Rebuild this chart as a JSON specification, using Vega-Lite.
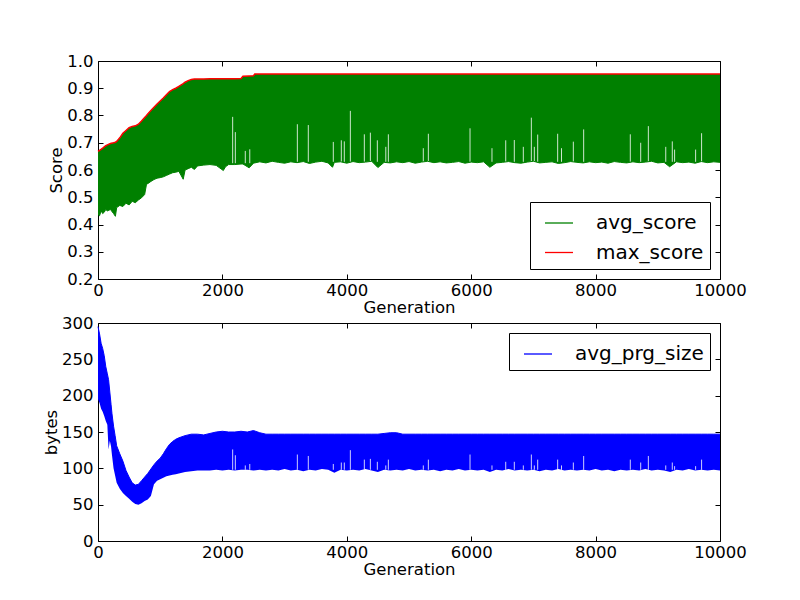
{
  "$schema": "https://vega.github.io/schema/vega-lite/v6.json",
  "padding": {"left": 43, "top": 52, "right": 5, "bottom": 5},
  "background": "white",
  "config": {
    "view": {"stroke": "black", "strokeWidth": 1},
    "font": "DejaVu Sans",
    "axis": {
      "domain": false,
      "grid": false,
      "zindex": 1,
      "tickColor": "black",
      "tickSize": -5,
      "tickWidth": 1,
      "labelFlush": false,
      "labelOverlap": false,
      "labelFont": "DejaVu Sans",
      "labelFontSize": 16.5,
      "labelColor": "black",
      "labelPadding": 10,
      "titleFont": "DejaVu Sans",
      "titleFontSize": 16.5,
      "titleFontWeight": "normal",
      "titleColor": "black",
      "titlePadding": 2
    },
    "axisX": {"labelPadding": 8, "titlePadding": 1},
    "legend": {
      "title": null,
      "strokeColor": "black",
      "fillColor": "white",
      "padding": 6,
      "cornerRadius": 0,
      "labelFont": "DejaVu Sans",
      "labelFontSize": 20,
      "labelColor": "black",
      "symbolType": "stroke",
      "symbolSize": 784,
      "symbolStrokeWidth": 1.3,
      "symbolOffset": 8,
      "labelOffset": 22,
      "rowPadding": 4.5,
      "offset": 10
    }
  },
  "datasets": {
    "score": [
      {"gen": 0, "avg_lo": 0.437, "max_score": 0.668},
      {"gen": 25, "avg_lo": 0.432, "max_score": 0.672},
      {"gen": 50, "avg_lo": 0.45, "max_score": 0.676},
      {"gen": 75, "avg_lo": 0.44, "max_score": 0.68},
      {"gen": 100, "avg_lo": 0.445, "max_score": 0.685},
      {"gen": 125, "avg_lo": 0.455, "max_score": 0.689},
      {"gen": 150, "avg_lo": 0.45, "max_score": 0.692},
      {"gen": 200, "avg_lo": 0.455, "max_score": 0.697},
      {"gen": 250, "avg_lo": 0.44, "max_score": 0.7},
      {"gen": 280, "avg_lo": 0.43, "max_score": 0.702},
      {"gen": 300, "avg_lo": 0.462, "max_score": 0.705},
      {"gen": 350, "avg_lo": 0.47, "max_score": 0.718},
      {"gen": 400, "avg_lo": 0.466, "max_score": 0.735},
      {"gen": 450, "avg_lo": 0.478, "max_score": 0.745},
      {"gen": 500, "avg_lo": 0.472, "max_score": 0.755},
      {"gen": 550, "avg_lo": 0.485, "max_score": 0.76},
      {"gen": 600, "avg_lo": 0.48, "max_score": 0.762},
      {"gen": 650, "avg_lo": 0.49, "max_score": 0.768},
      {"gen": 700, "avg_lo": 0.498, "max_score": 0.78},
      {"gen": 750, "avg_lo": 0.51, "max_score": 0.793},
      {"gen": 780, "avg_lo": 0.548, "max_score": 0.8},
      {"gen": 800, "avg_lo": 0.55, "max_score": 0.806},
      {"gen": 850, "avg_lo": 0.558, "max_score": 0.818},
      {"gen": 900, "avg_lo": 0.565, "max_score": 0.83},
      {"gen": 950, "avg_lo": 0.57, "max_score": 0.842},
      {"gen": 1000, "avg_lo": 0.572, "max_score": 0.853},
      {"gen": 1050, "avg_lo": 0.575, "max_score": 0.864},
      {"gen": 1100, "avg_lo": 0.58, "max_score": 0.876},
      {"gen": 1150, "avg_lo": 0.585, "max_score": 0.888},
      {"gen": 1200, "avg_lo": 0.59, "max_score": 0.895},
      {"gen": 1250, "avg_lo": 0.592, "max_score": 0.9},
      {"gen": 1300, "avg_lo": 0.595, "max_score": 0.907},
      {"gen": 1370, "avg_lo": 0.566, "max_score": 0.917},
      {"gen": 1400, "avg_lo": 0.6, "max_score": 0.922},
      {"gen": 1450, "avg_lo": 0.605, "max_score": 0.928},
      {"gen": 1500, "avg_lo": 0.61, "max_score": 0.932},
      {"gen": 1550, "avg_lo": 0.602, "max_score": 0.934},
      {"gen": 1600, "avg_lo": 0.615, "max_score": 0.934},
      {"gen": 1700, "avg_lo": 0.618, "max_score": 0.934},
      {"gen": 1800, "avg_lo": 0.62, "max_score": 0.935},
      {"gen": 1900, "avg_lo": 0.617, "max_score": 0.935},
      {"gen": 2015, "avg_lo": 0.598, "max_score": 0.935},
      {"gen": 2050, "avg_lo": 0.612, "max_score": 0.935},
      {"gen": 2100, "avg_lo": 0.62, "max_score": 0.935},
      {"gen": 2200, "avg_lo": 0.62, "max_score": 0.935},
      {"gen": 2300, "avg_lo": 0.622, "max_score": 0.936},
      {"gen": 2330, "avg_lo": 0.622, "max_score": 0.944},
      {"gen": 2430, "avg_lo": 0.608, "max_score": 0.945},
      {"gen": 2500, "avg_lo": 0.625, "max_score": 0.946},
      {"gen": 2520, "avg_lo": 0.626, "max_score": 0.952},
      {"gen": 2600, "avg_lo": 0.63, "max_score": 0.952},
      {"gen": 2700, "avg_lo": 0.626, "max_score": 0.952},
      {"gen": 2800, "avg_lo": 0.632, "max_score": 0.952},
      {"gen": 2900, "avg_lo": 0.628, "max_score": 0.952},
      {"gen": 3000, "avg_lo": 0.625, "max_score": 0.952},
      {"gen": 3100, "avg_lo": 0.63, "max_score": 0.952},
      {"gen": 3200, "avg_lo": 0.627, "max_score": 0.952},
      {"gen": 3300, "avg_lo": 0.631, "max_score": 0.952},
      {"gen": 3400, "avg_lo": 0.624, "max_score": 0.952},
      {"gen": 3500, "avg_lo": 0.629, "max_score": 0.952},
      {"gen": 3600, "avg_lo": 0.632, "max_score": 0.952},
      {"gen": 3700, "avg_lo": 0.626, "max_score": 0.952},
      {"gen": 3770, "avg_lo": 0.61, "max_score": 0.952},
      {"gen": 3800, "avg_lo": 0.628, "max_score": 0.952},
      {"gen": 3900, "avg_lo": 0.63, "max_score": 0.952},
      {"gen": 4000, "avg_lo": 0.625, "max_score": 0.952},
      {"gen": 4100, "avg_lo": 0.631, "max_score": 0.952},
      {"gen": 4200, "avg_lo": 0.627, "max_score": 0.952},
      {"gen": 4300, "avg_lo": 0.629, "max_score": 0.952},
      {"gen": 4400, "avg_lo": 0.632, "max_score": 0.952},
      {"gen": 4500, "avg_lo": 0.609, "max_score": 0.952},
      {"gen": 4600, "avg_lo": 0.628, "max_score": 0.952},
      {"gen": 4700, "avg_lo": 0.626, "max_score": 0.952},
      {"gen": 4800, "avg_lo": 0.63, "max_score": 0.952},
      {"gen": 4900, "avg_lo": 0.627, "max_score": 0.952},
      {"gen": 5000, "avg_lo": 0.631, "max_score": 0.952},
      {"gen": 5100, "avg_lo": 0.625, "max_score": 0.952},
      {"gen": 5200, "avg_lo": 0.629, "max_score": 0.952},
      {"gen": 5300, "avg_lo": 0.632, "max_score": 0.952},
      {"gen": 5400, "avg_lo": 0.627, "max_score": 0.952},
      {"gen": 5500, "avg_lo": 0.63, "max_score": 0.952},
      {"gen": 5600, "avg_lo": 0.626, "max_score": 0.952},
      {"gen": 5700, "avg_lo": 0.628, "max_score": 0.952},
      {"gen": 5800, "avg_lo": 0.631, "max_score": 0.952},
      {"gen": 5900, "avg_lo": 0.625, "max_score": 0.952},
      {"gen": 6000, "avg_lo": 0.629, "max_score": 0.952},
      {"gen": 6100, "avg_lo": 0.627, "max_score": 0.952},
      {"gen": 6200, "avg_lo": 0.63, "max_score": 0.952},
      {"gen": 6300, "avg_lo": 0.61, "max_score": 0.952},
      {"gen": 6400, "avg_lo": 0.626, "max_score": 0.952},
      {"gen": 6500, "avg_lo": 0.628, "max_score": 0.952},
      {"gen": 6600, "avg_lo": 0.631, "max_score": 0.952},
      {"gen": 6700, "avg_lo": 0.627, "max_score": 0.952},
      {"gen": 6800, "avg_lo": 0.625, "max_score": 0.952},
      {"gen": 6900, "avg_lo": 0.629, "max_score": 0.952},
      {"gen": 7000, "avg_lo": 0.632, "max_score": 0.952},
      {"gen": 7100, "avg_lo": 0.626, "max_score": 0.952},
      {"gen": 7200, "avg_lo": 0.628, "max_score": 0.952},
      {"gen": 7300, "avg_lo": 0.63, "max_score": 0.952},
      {"gen": 7400, "avg_lo": 0.624, "max_score": 0.952},
      {"gen": 7500, "avg_lo": 0.627, "max_score": 0.952},
      {"gen": 7600, "avg_lo": 0.631, "max_score": 0.952},
      {"gen": 7700, "avg_lo": 0.628, "max_score": 0.952},
      {"gen": 7800, "avg_lo": 0.626, "max_score": 0.952},
      {"gen": 7900, "avg_lo": 0.63, "max_score": 0.952},
      {"gen": 8000, "avg_lo": 0.627, "max_score": 0.952},
      {"gen": 8100, "avg_lo": 0.629, "max_score": 0.952},
      {"gen": 8200, "avg_lo": 0.625, "max_score": 0.952},
      {"gen": 8300, "avg_lo": 0.631, "max_score": 0.952},
      {"gen": 8400, "avg_lo": 0.628, "max_score": 0.952},
      {"gen": 8500, "avg_lo": 0.626, "max_score": 0.952},
      {"gen": 8600, "avg_lo": 0.63, "max_score": 0.952},
      {"gen": 8700, "avg_lo": 0.627, "max_score": 0.952},
      {"gen": 8800, "avg_lo": 0.629, "max_score": 0.952},
      {"gen": 8900, "avg_lo": 0.632, "max_score": 0.952},
      {"gen": 9000, "avg_lo": 0.626, "max_score": 0.952},
      {"gen": 9100, "avg_lo": 0.628, "max_score": 0.952},
      {"gen": 9190, "avg_lo": 0.612, "max_score": 0.952},
      {"gen": 9300, "avg_lo": 0.63, "max_score": 0.952},
      {"gen": 9400, "avg_lo": 0.627, "max_score": 0.952},
      {"gen": 9500, "avg_lo": 0.629, "max_score": 0.952},
      {"gen": 9600, "avg_lo": 0.625, "max_score": 0.952},
      {"gen": 9700, "avg_lo": 0.631, "max_score": 0.952},
      {"gen": 9800, "avg_lo": 0.627, "max_score": 0.952},
      {"gen": 9900, "avg_lo": 0.63, "max_score": 0.952},
      {"gen": 10000, "avg_lo": 0.628, "max_score": 0.952}
    ],
    "size": [
      {"gen": 0, "lo": 195, "hi": 295},
      {"gen": 25, "lo": 190, "hi": 285},
      {"gen": 50, "lo": 182, "hi": 272},
      {"gen": 75, "lo": 178, "hi": 265},
      {"gen": 100, "lo": 172, "hi": 255},
      {"gen": 125, "lo": 165, "hi": 240},
      {"gen": 150, "lo": 160, "hi": 230},
      {"gen": 170, "lo": 126, "hi": 222},
      {"gen": 190, "lo": 138, "hi": 205},
      {"gen": 210, "lo": 130, "hi": 188},
      {"gen": 225, "lo": 118, "hi": 175},
      {"gen": 250, "lo": 100, "hi": 158},
      {"gen": 275, "lo": 90, "hi": 145},
      {"gen": 300, "lo": 80, "hi": 131},
      {"gen": 350, "lo": 72, "hi": 120},
      {"gen": 400, "lo": 66, "hi": 110},
      {"gen": 450, "lo": 62, "hi": 97},
      {"gen": 500, "lo": 58, "hi": 88},
      {"gen": 550, "lo": 54, "hi": 80},
      {"gen": 600, "lo": 51, "hi": 77},
      {"gen": 650, "lo": 50, "hi": 78},
      {"gen": 700, "lo": 52, "hi": 83},
      {"gen": 750, "lo": 55, "hi": 88},
      {"gen": 800, "lo": 57, "hi": 93},
      {"gen": 850, "lo": 62, "hi": 99},
      {"gen": 900, "lo": 78, "hi": 105},
      {"gen": 950, "lo": 83, "hi": 110},
      {"gen": 1000, "lo": 85, "hi": 114},
      {"gen": 1050, "lo": 87, "hi": 120},
      {"gen": 1100, "lo": 89, "hi": 127},
      {"gen": 1150, "lo": 90, "hi": 133},
      {"gen": 1200, "lo": 91, "hi": 137},
      {"gen": 1250, "lo": 92, "hi": 140},
      {"gen": 1300, "lo": 93, "hi": 142},
      {"gen": 1400, "lo": 95, "hi": 145},
      {"gen": 1500, "lo": 96, "hi": 147},
      {"gen": 1600, "lo": 97, "hi": 147},
      {"gen": 1700, "lo": 97, "hi": 146},
      {"gen": 1800, "lo": 97, "hi": 148},
      {"gen": 1900, "lo": 98, "hi": 150},
      {"gen": 2000, "lo": 97, "hi": 151},
      {"gen": 2100, "lo": 98, "hi": 150},
      {"gen": 2200, "lo": 97, "hi": 150},
      {"gen": 2300, "lo": 98, "hi": 151},
      {"gen": 2400, "lo": 98, "hi": 150},
      {"gen": 2500, "lo": 97, "hi": 152},
      {"gen": 2600, "lo": 98, "hi": 149},
      {"gen": 2700, "lo": 97, "hi": 147},
      {"gen": 2800, "lo": 98, "hi": 147},
      {"gen": 2900, "lo": 97, "hi": 147},
      {"gen": 3000, "lo": 99, "hi": 147},
      {"gen": 3100, "lo": 97, "hi": 147},
      {"gen": 3200, "lo": 98, "hi": 147},
      {"gen": 3300, "lo": 96, "hi": 147},
      {"gen": 3400, "lo": 98, "hi": 147},
      {"gen": 3500, "lo": 97, "hi": 147},
      {"gen": 3600, "lo": 99, "hi": 147},
      {"gen": 3700, "lo": 98, "hi": 147},
      {"gen": 3800, "lo": 94, "hi": 147},
      {"gen": 3900, "lo": 98, "hi": 147},
      {"gen": 4000, "lo": 97, "hi": 147},
      {"gen": 4100, "lo": 98, "hi": 147},
      {"gen": 4200, "lo": 97, "hi": 147},
      {"gen": 4300, "lo": 99, "hi": 147},
      {"gen": 4400, "lo": 97, "hi": 147},
      {"gen": 4500, "lo": 95, "hi": 147},
      {"gen": 4600, "lo": 98, "hi": 148},
      {"gen": 4700, "lo": 97, "hi": 149},
      {"gen": 4800, "lo": 98, "hi": 149},
      {"gen": 4900, "lo": 97, "hi": 147},
      {"gen": 5000, "lo": 99, "hi": 147},
      {"gen": 5100, "lo": 97, "hi": 147},
      {"gen": 5200, "lo": 98, "hi": 147},
      {"gen": 5300, "lo": 97, "hi": 147},
      {"gen": 5400, "lo": 98, "hi": 147},
      {"gen": 5500, "lo": 96, "hi": 147},
      {"gen": 5600, "lo": 98, "hi": 147},
      {"gen": 5700, "lo": 97, "hi": 147},
      {"gen": 5800, "lo": 99, "hi": 147},
      {"gen": 5900, "lo": 97, "hi": 147},
      {"gen": 6000, "lo": 98, "hi": 147},
      {"gen": 6100, "lo": 97, "hi": 147},
      {"gen": 6200, "lo": 98, "hi": 147},
      {"gen": 6300, "lo": 95, "hi": 147},
      {"gen": 6400, "lo": 98, "hi": 147},
      {"gen": 6500, "lo": 97, "hi": 147},
      {"gen": 6600, "lo": 99, "hi": 147},
      {"gen": 6700, "lo": 97, "hi": 147},
      {"gen": 6800, "lo": 98, "hi": 147},
      {"gen": 6900, "lo": 97, "hi": 147},
      {"gen": 7000, "lo": 98, "hi": 147},
      {"gen": 7100, "lo": 96, "hi": 147},
      {"gen": 7200, "lo": 98, "hi": 147},
      {"gen": 7300, "lo": 97, "hi": 147},
      {"gen": 7400, "lo": 99, "hi": 147},
      {"gen": 7500, "lo": 97, "hi": 147},
      {"gen": 7600, "lo": 98, "hi": 147},
      {"gen": 7700, "lo": 97, "hi": 147},
      {"gen": 7800, "lo": 98, "hi": 147},
      {"gen": 7900, "lo": 97, "hi": 147},
      {"gen": 8000, "lo": 99, "hi": 147},
      {"gen": 8100, "lo": 97, "hi": 147},
      {"gen": 8200, "lo": 98, "hi": 147},
      {"gen": 8300, "lo": 96, "hi": 147},
      {"gen": 8400, "lo": 98, "hi": 147},
      {"gen": 8500, "lo": 97, "hi": 147},
      {"gen": 8600, "lo": 98, "hi": 147},
      {"gen": 8700, "lo": 97, "hi": 147},
      {"gen": 8800, "lo": 99, "hi": 147},
      {"gen": 8900, "lo": 97, "hi": 147},
      {"gen": 9000, "lo": 98, "hi": 147},
      {"gen": 9100, "lo": 97, "hi": 147},
      {"gen": 9200, "lo": 95, "hi": 147},
      {"gen": 9300, "lo": 98, "hi": 147},
      {"gen": 9400, "lo": 97, "hi": 147},
      {"gen": 9500, "lo": 99, "hi": 147},
      {"gen": 9600, "lo": 97, "hi": 147},
      {"gen": 9700, "lo": 98, "hi": 147},
      {"gen": 9800, "lo": 97, "hi": 147},
      {"gen": 9900, "lo": 98, "hi": 147},
      {"gen": 10000, "lo": 97, "hi": 147}
    ],
    "gaps": [
      {"gen": 2165, "score_from": 0.625, "score_to": 0.795, "size_from": 98, "size_to": 126},
      {"gen": 2208, "score_from": 0.625, "score_to": 0.739, "size_from": 98, "size_to": 118},
      {"gen": 2368, "score_from": 0.625, "score_to": 0.67, "size_from": 98, "size_to": 104},
      {"gen": 2440, "score_from": 0.625, "score_to": 0.676, "size_from": 98, "size_to": 106},
      {"gen": 3205, "score_from": 0.63, "score_to": 0.768, "size_from": 98, "size_to": 119},
      {"gen": 3381, "score_from": 0.63, "score_to": 0.765, "size_from": 98, "size_to": 117},
      {"gen": 3783, "score_from": 0.63, "score_to": 0.703, "size_from": 98, "size_to": 106},
      {"gen": 3912, "score_from": 0.63, "score_to": 0.709, "size_from": 98, "size_to": 108},
      {"gen": 3960, "score_from": 0.63, "score_to": 0.705, "size_from": 98, "size_to": 108},
      {"gen": 4057, "score_from": 0.63, "score_to": 0.817, "size_from": 98, "size_to": 125},
      {"gen": 4282, "score_from": 0.63, "score_to": 0.731, "size_from": 98, "size_to": 112},
      {"gen": 4379, "score_from": 0.63, "score_to": 0.737, "size_from": 98, "size_to": 113},
      {"gen": 4491, "score_from": 0.63, "score_to": 0.709, "size_from": 98, "size_to": 109},
      {"gen": 4627, "score_from": 0.63, "score_to": 0.685, "size_from": 98, "size_to": 104},
      {"gen": 4668, "score_from": 0.63, "score_to": 0.731, "size_from": 98, "size_to": 112},
      {"gen": 5230, "score_from": 0.63, "score_to": 0.68, "size_from": 98, "size_to": 104},
      {"gen": 5311, "score_from": 0.63, "score_to": 0.733, "size_from": 98, "size_to": 112},
      {"gen": 5981, "score_from": 0.63, "score_to": 0.753, "size_from": 98, "size_to": 119},
      {"gen": 6334, "score_from": 0.63, "score_to": 0.68, "size_from": 98, "size_to": 104},
      {"gen": 6555, "score_from": 0.63, "score_to": 0.709, "size_from": 98, "size_to": 109},
      {"gen": 6693, "score_from": 0.63, "score_to": 0.71, "size_from": 98, "size_to": 109},
      {"gen": 6838, "score_from": 0.63, "score_to": 0.685, "size_from": 98, "size_to": 104},
      {"gen": 6967, "score_from": 0.63, "score_to": 0.792, "size_from": 98, "size_to": 119},
      {"gen": 7015, "score_from": 0.63, "score_to": 0.685, "size_from": 98, "size_to": 104},
      {"gen": 7069, "score_from": 0.63, "score_to": 0.73, "size_from": 98, "size_to": 112},
      {"gen": 7390, "score_from": 0.63, "score_to": 0.733, "size_from": 98, "size_to": 112},
      {"gen": 7452, "score_from": 0.63, "score_to": 0.68, "size_from": 98, "size_to": 104},
      {"gen": 7642, "score_from": 0.63, "score_to": 0.704, "size_from": 98, "size_to": 108},
      {"gen": 7808, "score_from": 0.63, "score_to": 0.749, "size_from": 98, "size_to": 117},
      {"gen": 8558, "score_from": 0.63, "score_to": 0.731, "size_from": 98, "size_to": 112},
      {"gen": 8725, "score_from": 0.63, "score_to": 0.7, "size_from": 98, "size_to": 108},
      {"gen": 8848, "score_from": 0.63, "score_to": 0.761, "size_from": 98, "size_to": 117},
      {"gen": 9128, "score_from": 0.63, "score_to": 0.685, "size_from": 98, "size_to": 104},
      {"gen": 9233, "score_from": 0.63, "score_to": 0.705, "size_from": 98, "size_to": 108},
      {"gen": 9270, "score_from": 0.63, "score_to": 0.675, "size_from": 98, "size_to": 103},
      {"gen": 9608, "score_from": 0.63, "score_to": 0.675, "size_from": 98, "size_to": 103},
      {"gen": 9704, "score_from": 0.63, "score_to": 0.735, "size_from": 98, "size_to": 112}
    ]
  },
  "vconcat": [
    {
      "width": 622,
      "height": 218,
      "layer": [
        {
          "data": {"name": "score"},
          "mark": {"type": "area", "color": "#008000", "opacity": 1},
          "encoding": {
            "x": {"field": "gen", "type": "quantitative", "scale": {"domain": [0, 10000], "nice": false},
                  "axis": {"title": "Generation", "values": [0, 2000, 4000, 6000, 8000, 10000], "format": "d"}},
            "y": {"field": "avg_lo", "type": "quantitative", "scale": {"domain": [0.2, 1.0], "nice": false, "zero": false},
                  "axis": {"title": "Score", "values": [0.2, 0.3, 0.4, 0.5, 0.6, 0.7, 0.8, 0.9, 1.0], "format": ".1f"}},
            "y2": {"field": "max_score"}
          }
        },
        {
          "data": {"name": "gaps"},
          "mark": {"type": "rule", "color": "white", "strokeWidth": 1, "opacity": 0.8},
          "encoding": {
            "x": {"field": "gen", "type": "quantitative", "axis": null},
            "y": {"field": "score_from", "type": "quantitative", "axis": null},
            "y2": {"field": "score_to"}
          }
        },
        {
          "data": {"name": "score"},
          "mark": {"type": "line", "strokeWidth": 1},
          "encoding": {
            "x": {"field": "gen", "type": "quantitative", "axis": null},
            "y": {"field": "avg_lo", "type": "quantitative", "axis": null},
            "color": {"datum": "avg_score", "type": "nominal",
                      "scale": {"domain": ["avg_score", "max_score"], "range": ["#008000", "#ff0000"]},
                      "legend": {"orient": "bottom-right"}}
          }
        },
        {
          "data": {"name": "score"},
          "mark": {"type": "line", "strokeWidth": 1.5},
          "encoding": {
            "x": {"field": "gen", "type": "quantitative",
                  "axis": {"orient": "top", "labels": false, "title": null, "values": [0, 2000, 4000, 6000, 8000, 10000]}},
            "y": {"field": "max_score", "type": "quantitative",
                  "axis": {"orient": "right", "labels": false, "title": null, "values": [0.2, 0.3, 0.4, 0.5, 0.6, 0.7, 0.8, 0.9, 1.0]}},
            "color": {"datum": "max_score", "type": "nominal"}
          }
        }
      ],
      "resolve": {"axis": {"x": "independent", "y": "independent"}}
    },
    {
      "width": 622,
      "height": 218,
      "layer": [
        {
          "data": {"name": "size"},
          "mark": {"type": "area", "color": "#0000ff", "opacity": 1},
          "encoding": {
            "x": {"field": "gen", "type": "quantitative", "scale": {"domain": [0, 10000], "nice": false},
                  "axis": {"title": "Generation", "values": [0, 2000, 4000, 6000, 8000, 10000], "format": "d"}},
            "y": {"field": "lo", "type": "quantitative", "scale": {"domain": [0, 300], "nice": false},
                  "axis": {"title": "bytes", "values": [0, 50, 100, 150, 200, 250, 300]}},
            "y2": {"field": "hi"}
          }
        },
        {
          "data": {"name": "gaps"},
          "mark": {"type": "rule", "color": "white", "strokeWidth": 1, "opacity": 0.8},
          "encoding": {
            "x": {"field": "gen", "type": "quantitative", "axis": null},
            "y": {"field": "size_from", "type": "quantitative", "axis": null},
            "y2": {"field": "size_to"}
          }
        },
        {
          "data": {"name": "size"},
          "mark": {"type": "line", "strokeWidth": 1},
          "encoding": {
            "x": {"field": "gen", "type": "quantitative",
                  "axis": {"orient": "top", "labels": false, "title": null, "values": [0, 2000, 4000, 6000, 8000, 10000]}},
            "y": {"field": "hi", "type": "quantitative",
                  "axis": {"orient": "right", "labels": false, "title": null, "values": [0, 50, 100, 150, 200, 250, 300]}},
            "color": {"datum": "avg_prg_size", "type": "nominal",
                      "scale": {"domain": ["avg_prg_size"], "range": ["#0000ff"]},
                      "legend": {"orient": "top-right"}}
          }
        }
      ],
      "resolve": {"axis": {"x": "independent", "y": "independent"}}
    }
  ],
  "spacing": 44,
  "bounds": "flush",
  "resolve": {"scale": {"color": "independent"}, "legend": {"color": "independent"}}
}
